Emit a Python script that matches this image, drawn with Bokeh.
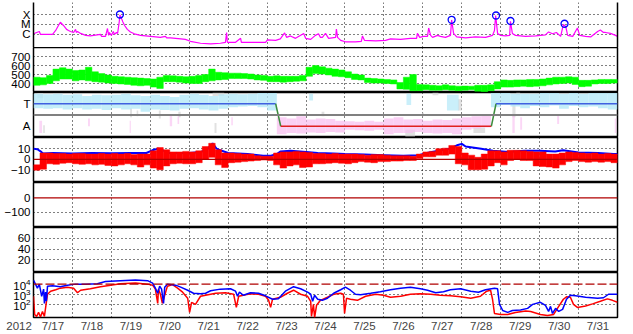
import numpy as np
from bokeh.plotting import figure
from bokeh.layouts import column
from bokeh.models import Range1d, FixedTicker, Span, Label, LogAxis
from bokeh.embed import file_html
from bokeh.resources import INLINE

# ---------------- data ----------------
year_text = "2012"
day_grid = list(range(18, 32))                       # midnights (day of July)
day_label_pos = [d + 0.5 for d in range(17, 32)]
day_labels = ["7/%d" % d for d in range(17, 32)]

# X-ray flux (day of July, W/m2)
xray = [(17.00,1.1e-6),(17.15,1.9e-6),(17.18,9.5e-7),(17.31,9.5e-7),(17.49,9.5e-7),(17.57,2.4e-6),
        (17.64,7.7e-6),(17.69,1.65e-5),(17.77,7.7e-6),(17.85,3.1e-6),(17.90,2.4e-6),(17.95,1.9e-6),
        (18.03,1.5e-6),(18.08,3.1e-6),(18.10,1.5e-6),(18.13,1.9e-6),(18.21,1.2e-6),(18.34,7.6e-7),
        (18.46,6.7e-7),(18.72,9.5e-7),(18.75,6.0e-7),(18.85,6.0e-7),(18.90,3.8e-6),(18.93,7.6e-7),
        (18.95,1.5e-6),(19.00,7.6e-7),(19.05,1.9e-6),(19.08,9.5e-7),(19.13,1.5e-6),(19.16,1.2e-6),
        (19.20,1.55e-5),(19.22,9.0e-5),(19.25,5.0e-5),(19.29,2.0e-5),(19.34,7.7e-6),(19.41,3.1e-6),
        (19.49,1.7e-6),(19.59,1.1e-6),(19.75,7.6e-7),(20.01,6.0e-7),(20.26,4.8e-7),(20.39,6.0e-7),
        (20.42,4.3e-7),(20.52,4.3e-7),(20.78,3.4e-7),(20.90,3.0e-7),(21.03,1.9e-7),(21.29,1.2e-7),
        (21.55,1.05e-7),(21.80,1.2e-7),(21.93,1.5e-7),(21.96,1.5e-6),(21.98,1.5e-7),(22.19,1.5e-7),
        (22.32,3.8e-7),(22.34,1.5e-7),(22.57,1.5e-7),(22.96,1.5e-7),(23.01,2.7e-7),(23.22,2.4e-7),
        (23.34,3.4e-7),(23.45,1.35e-6),(23.50,4.8e-7),(23.60,6.7e-7),(23.73,3.8e-7),(23.94,1.2e-6),
        (23.99,3.8e-7),(24.12,3.0e-7),(24.24,7.6e-7),(24.32,1.1e-6),(24.37,4.8e-7),(24.42,4.8e-7),
        (24.50,1.2e-6),(24.58,3.8e-7),(24.76,4.8e-7),(24.78,3.4e-6),(24.81,4.8e-7),(24.89,2.4e-7),
        (25.01,1.7e-7),(25.27,1.7e-7),(25.42,1.9e-7),(25.45,6.7e-7),(25.50,2.4e-7),(25.79,2.1e-7),
        (26.04,2.4e-7),(26.17,3.4e-7),(26.43,3.0e-7),(26.68,3.8e-7),(26.84,3.8e-7),(26.86,1.2e-6),
        (26.92,4.8e-7),(27.02,6.0e-7),(27.12,6.0e-7),(27.15,4.3e-6),(27.20,7.6e-7),(27.25,4.8e-7),
        (27.38,7.6e-7),(27.45,6.0e-7),(27.58,4.8e-7),(27.71,7.6e-7),(27.74,2.8e-5),(27.79,1.2e-6),
        (27.87,5.3e-7),(28.10,4.3e-7),(28.35,5.3e-7),(28.61,4.8e-7),(28.79,7.6e-7),(28.84,2.4e-6),
        (28.87,7.9e-5),(28.92,1.2e-6),(29.00,7.6e-7),(29.12,6.7e-7),(29.23,7.6e-7),(29.25,2.0e-5),
        (29.30,1.2e-6),(29.38,7.6e-7),(29.64,6.0e-7),(29.90,6.7e-7),(30.15,8.5e-7),(30.23,1.7e-6),
        (30.33,1.1e-6),(30.43,1.5e-6),(30.54,6.0e-7),(30.61,9.8e-6),(30.67,6.1e-6),(30.72,7.6e-7),
        (30.85,6.0e-7),(30.97,4.3e-6),(31.03,7.6e-7),(31.18,6.0e-7),(31.31,5.3e-7),(31.49,1.9e-6),
        (31.56,2.7e-6),(31.64,1.5e-6),(31.69,1.5e-6),(31.82,1.2e-6),(31.95,7.6e-7),(32.00,6.0e-7)]
flare_t = [19.22, 27.74, 28.88, 29.25, 30.64]
flare_f = [1.0e-4, 2.9e-5, 7.9e-5, 2.2e-5, 1.15e-5]

# solar wind speed, 4-hour bins from 7/17 00:00 (km/s)
speed_lo = [380,385,400,430,450,450, 430,440,430,420,415,405, 400,395,390,380,375,380,
            360,345,420,420,415,405, 400,400,420,430,440,445, 455,455,455,450,440,435,
            420,420,415,420,425,430, 480,510,505,495,480,475, 465,445,440,410,405,405,
            400,395,340,335,320,320, 330,325,325,330,325,320, 325,330,315,308,320,340,
            360,360,365,370,365,370, 375,385,395,400,405,390, 365,370,395,400,400,405]
speed_hi = [470,465,490,560,575,560, 545,550,580,530,510,495, 480,475,470,465,460,455,
            450,470,490,485,480,475, 480,490,500,560,525,520, 515,515,510,505,495,490,
            480,485,480,480,480,490, 580,600,585,570,560,550, 530,505,495,460,455,450,
            445,440,410,470,500,390, 385,380,375,385,375,370, 372,370,380,380,385,420,
            440,435,440,440,445,445, 450,460,470,470,475,470, 435,435,440,445,445,445]

# sector (T = +1, A = -1)
sector_t = [17.0, 23.22, 23.35, 28.76, 28.88, 32.0]
sector_v = [1, 1, -1, -1, 1, 1]
cyan_t = [17.0,17.25,17.5,17.75,18.0,18.25,18.5,18.75,19.0,19.25,19.5,19.75,20.0,20.25,20.5,
          20.75,21.0,21.25,21.5,21.75,22.0,22.25,22.5,22.75,23.0,
          28.75,29.0,29.25,29.5,29.75,30.0,30.25,30.5,30.75,31.0,31.25,31.5,31.75]
cyan_lo = [0.6,0.55,0.6,0.5,0.6,0.5,0.55,0.45,0.6,0.5,0.55,0.3,0.5,0.45,0.4,0.55,0.6,0.5,0.4,
           0.55,0.7,0.75,0.8,0.7,0.4, 0.7,0.9,0.75,0.6,0.8,0.7,0.85,0.55,0.8,0.7,0.75,0.6,0.5]
cyan_hi = [1.9,1.85,1.9,1.8,1.85,1.7,1.8,1.75,1.8,1.9,1.75,1.7,1.8,1.7,1.6,1.8,1.9,1.8,1.7,
           1.85,1.9,1.85,1.9,1.95,1.95, 1.95,1.95,1.9,1.9,1.9,1.95,1.95,1.9,1.95,1.9,1.95,1.95,1.95]
pink_t = [23.25,23.5,23.75,24.0,24.25,24.5,24.75,25.0,25.25,25.5,25.75,26.0,26.25,26.5,26.75,
          27.0,27.25,27.5,27.75,28.0,28.25,28.5]
pink_hi = [-0.2,-0.3,-0.1,-0.4,-0.3,-0.35,-0.5,-0.55,-0.6,-0.5,-0.6,-0.3,-0.2,-0.4,-0.35,
           -0.5,-0.4,-0.45,-0.3,-0.2,-0.1,-0.05]
pink_lo = [-1.7,-1.6,-1.65,-1.55,-1.6,-1.5,-1.55,-1.3,-1.35,-1.4,-1.3,-1.7,-1.6,-1.6,-1.5,
           -1.6,-1.65,-1.6,-1.7,-1.3,-1.2,-1.1]
gray_bits = [(17.10,17.25,1.5,1.95),(17.25,17.29,-1.6,-0.9),(19.48,19.53,-0.2,0.6),
             (19.65,19.69,-0.1,0.4),(20.22,20.27,-0.3,0.4),(20.72,20.78,-0.2,0.3),
             (21.60,21.90,1.7,2.0),(21.65,21.70,-1.6,-0.7),(24.40,24.47,-0.1,0.3),
             (26.55,26.80,-1.9,-1.3),(26.98,27.03,-0.1,0.2),(27.25,27.40,1.75,2.0),
             (27.90,28.00,0.4,1.4),(28.30,28.60,-1.6,-1.1),(29.30,29.38,-0.2,0.9),
             (29.40,29.50,1.75,2.0)]
pink_bits = [(17.15,17.22,-1.6,-0.5),(18.40,18.45,-1.0,-0.3),(19.47,19.50,-1.6,-0.5),
             (20.50,20.56,-1.0,0.0),(20.70,20.74,-0.8,-0.1),(22.08,22.12,-0.9,-0.2),
             (29.30,29.36,-1.6,0.0),(29.50,29.55,-1.3,-0.2),(30.45,30.50,-0.8,0.0),
             (31.93,31.97,-1.6,-0.3)]
cyan_bits = [(24.08,24.18,1.3,1.9),(26.58,26.70,0.9,1.9),(27.62,27.92,0.4,1.8)]

# IMF Bt (nT)
bt_t = [17.0,17.1,17.2,17.25,17.5,18.0,18.5,19.0,19.5,19.9,20.05,20.2,20.35,20.5,21.0,21.3,
        21.45,21.6,21.7,21.8,22.0,22.5,22.9,23.1,23.25,23.35,23.6,24.0,24.3,24.7,25.0,25.5,
        26.0,26.5,26.9,27.1,27.4,27.7,27.9,28.0,28.1,28.5,28.8,29.2,29.6,30.0,30.4,30.6,
        31.0,31.5,31.9,32.0]
bt_v = [10,9.5,7,5.5,6,5.5,6,5.8,6,6,8.5,10,8,6,6,7,9,15,10,8.5,6,5,3.5,3.5,5,7.5,8,7,6,5.5,
        5,4.5,4,3.5,4,6,8,10,13.5,14.5,12,10,8,7,8,8,7.5,8.5,6.5,6,5,5]
# IMF Bz range, 4-hour bins (nT)
bz_lo = [-10,-9,-4,-4.5,-3.5,-3, -4,-4.5,-4,-5,-4.5,-5.5, -6,-5,-4,-5,-7,-5,
         -8,-9.5,-6,-4,-3.5,-4, -4,-3,0,2,-5,-7.5, -3,-2.5,-2,-1.5,-1,-0.5,
         -1,-5,-8,-6,-5,-7.5, -7,-4,-4,-3.5,-3,-3.5, -4,-3,-2,-2.5,-3,-2,
         -2,-1.5,-1.5,-1,-1,1, 2.5,2.5,4,4,5,-4, -5,-9.5,-9.5,-9,-6,-3,
         -5,-1,0,-1,-1,-6, -6.5,-7,-8,-5,-2,-1, -2,-2.5,-2,-2.5,-2,-3]
bz_hi = [-5,6,6,5.5,5.5,5, 5.5,5.5,5,5,5.5,5, 5.5,5,5.5,4.5,5,5,
         8,11,9,7,7,7.5, 7,8,12,15,9,6, 6,5.5,5,5,3.5,3,
         3,6,7,7,7.5,7, 6.5,5.5,5.5,5,5.5,5, 5,5,4.5,4,4.5,4.5,
         4,3.5,3.5,3.5,3,5, 7,7.5,10,10.5,13,12, 6,4,2,5,8,8,
         7,8.5,8.5,8,7.5,7, 7,5,5,6,7,6.5, 6,5.5,6,5,5.5,5]

# electron flux
e_blue = [(17.00,2.5e4),(17.05,1.0e4),(17.10,4.0e3),(17.15,1.0e4),(17.21,6.3e2),(17.26,3.2e3),
          (17.28,1.26e2),(17.31,1.6e3),(17.33,2.0e2),(17.36,6.3e3),(17.49,7.1e3),(17.69,5.6e3),
          (17.87,7.9e3),(18.08,1.0e4),(18.34,1.0e4),(18.64,1.1e4),(18.85,1.8e4),(19.23,2.2e4),
          (19.62,2.5e4),(19.93,2.2e4),(20.06,1.26e4),(20.13,4.0e3),(20.19,1.26e3),(20.24,6.3e3),
          (20.29,3.2e3),(20.34,1.26e2),(20.37,5.0e3),(20.44,1.0e4),(20.65,7.9e3),(20.78,5.0e3),
          (20.96,2.5e3),(21.11,1.26e3),(21.29,1.1e3),(21.42,1.26e3),(21.55,2.2e3),(21.80,3.2e3),
          (22.06,3.5e3),(22.19,2.0e3),(22.24,6.3e2),(22.29,1.6e3),(22.39,8.0e2),(22.57,1.4e3),
          (22.78,1.26e3),(22.96,7.0e2),(23.14,3.2e2),(23.29,3.5e2),(23.47,2.0e3),(23.68,5.6e3),
          (23.86,3.5e3),(24.04,1.6e3),(24.12,1.0e3),(24.17,2.0e2),(24.22,8.0e2),(24.30,3.2e2),
          (24.42,2.5e2),(24.55,4.0e2),(24.71,1.26e3),(24.89,2.8e3),(25.01,5.0e3),(25.14,2.5e3),
          (25.27,1.0e3),(25.40,9.0e2),(25.66,1.26e3),(25.91,1.8e3),(26.17,2.8e3),(26.43,4.0e3),
          (26.68,5.0e3),(26.94,3.5e3),(27.12,2.5e3),(27.33,1.4e3),(27.53,1.8e3),(27.71,2.8e3),
          (27.97,3.5e3),(28.23,2.0e3),(28.43,1.6e3),(28.61,2.8e3),(28.84,4.0e3),(28.92,3.5e3),
          (28.97,1.0e2),(29.05,2.5e1),(29.18,1.6e1),(29.30,2.5e1),(29.51,2.8e1),(29.69,4.0e1),
          (29.82,1.0e2),(30.02,1.6e2),(30.15,8.0e1),(30.23,2.0e1),(30.28,6.3e1),(30.33,1.26e1),
          (30.41,4.0e1),(30.49,2.0e1),(30.59,3.2e1),(30.69,3.2e2),(30.79,8.0e2),(30.92,7.0e2),
          (31.18,5.0e2),(31.49,4.0e2),(31.64,4.5e2),(31.77,1.0e3),(32.00,1.0e3)]
e_red = [(17.00,6.3e2),(17.03,1.0e1),(17.08,6.3),(17.13,1.6e1),(17.18,5.6),(17.23,2.0e1),
         (17.28,6.3),(17.33,1.6e2),(17.36,1.0e3),(17.44,2.0e3),(17.57,2.8e3),(17.69,4.0e3),
         (17.87,5.0e3),(18.03,4.0e3),(18.13,1.4e3),(18.21,2.5e3),(18.46,3.5e3),(18.72,5.6e3),
         (18.98,7.9e3),(19.23,1.1e4),(19.62,1.26e4),(19.93,1.0e4),(20.06,7.9e3),(20.13,3.2e3),
         (20.19,1.26e2),(20.21,3.2e3),(20.26,1.0e3),(20.31,1.26e2),(20.37,8.0e2),(20.44,6.3e3),
         (20.57,8.9e3),(20.70,4.0e3),(20.83,1.6e3),(20.96,4.0e2),(21.01,1.6e1),(21.06,1.6e2),
         (21.16,1.0e2),(21.29,6.3e2),(21.42,8.0e2),(21.68,1.26e3),(21.93,1.4e3),(22.14,1.0e3),
         (22.21,5.0e1),(22.27,6.3e2),(22.39,8.0e2),(22.57,1.1e3),(22.78,1.0e3),(22.96,6.3e2),
         (23.04,2.5e2),(23.09,5.0e1),(23.14,3.2e2),(23.34,5.0e2),(23.52,1.26e3),(23.68,2.5e3),
         (23.86,1.0e3),(24.04,6.3e2),(24.12,2.0e2),(24.14,6.3),(24.19,1.0e2),(24.22,5.0),
         (24.27,8.0e1),(24.37,2.5e2),(24.55,5.0e2),(24.71,1.0e3),(24.89,1.26e3),(24.96,1.0e3),
         (24.99,1.26e1),(25.04,4.0e2),(25.14,3.2e2),(25.32,2.5e2),(25.53,6.3e2),(25.79,1.0e3),
         (25.99,8.0e2),(26.17,5.0e2),(26.43,6.3e2),(26.68,1.0e3),(26.94,1.1e3),(27.20,1.0e3),
         (27.45,8.0e2),(27.71,7.0e2),(27.97,5.6e2),(28.23,4.0e2),(28.48,6.3e2),(28.64,2.0e3),
         (28.74,2.5e3),(28.79,3.2e2),(28.84,1.26e1),(29.00,1.0e1),(29.18,1.0e1),(29.38,1.6e1),
         (29.64,2.2e1),(29.77,2.0e1),(30.02,1.0e1),(30.20,8.0),(30.36,1.0e1),(30.49,6.3e1),
         (30.61,3.2e2),(30.69,5.6e2),(30.79,5.0e2),(30.87,1.0e2),(30.97,5.0e1),(31.18,7.0e1),
         (31.36,1.12e2),(31.56,2.0e2),(31.74,3.5e2),(31.87,2.5e2),(32.00,1.6e2)]
e_threshold = 1.0e4

# ---------------- figure ----------------
FONT = "Liberation Sans"
X0, X1 = 17.0, 32.0
xr = Range1d(X0, X1)
BIN4H = 1.0 / 6.0


def panel(yr, ticks, grid, ytype="linear", top=0, bottom=0, xaxis=False, overrides=None,
          outline=True):
    p = figure(frame_width=584, frame_height=45, x_range=xr, y_range=yr, y_axis_type=ytype,
               x_axis_location=("below" if xaxis else None),
               min_border_left=33, min_border_right=16, min_border_top=top,
               min_border_bottom=bottom, output_backend="svg", toolbar_location=None,
               background_fill_color="white", border_fill_color="white")
    p.outline_line_color = "black" if outline else None
    p.outline_line_width = 1.5
    ax = p.yaxis[0]
    ax.ticker = FixedTicker(ticks=ticks)
    ax.axis_line_color = "black" if not outline else None
    ax.axis_line_width = 1.5
    ax.major_tick_line_color = None
    ax.minor_tick_line_color = None
    ax.major_tick_out = 0
    ax.major_tick_in = 0
    ax.minor_tick_out = 0
    ax.major_label_text_font = FONT
    ax.major_label_text_font_size = "11.5px"
    ax.major_label_text_color = "black"
    ax.major_label_standoff = 3
    if overrides:
        ax.major_label_overrides = overrides
    p.ygrid[0].ticker = FixedTicker(ticks=grid)
    p.xgrid[0].ticker = FixedTicker(ticks=day_grid)
    for g in (p.xgrid[0], p.ygrid[0]):
        g.grid_line_color = "black"
        g.grid_line_dash = "1 3"
        g.grid_line_width = 1
        g.grid_line_alpha = 1.0
    return p


def rt(p):
    p.add_layout(Label(x=X1, y=p.y_range.end, x_offset=3, y_offset=-9, text="rt",
                       text_font=FONT, text_font_size="10px", text_baseline="middle",
                       text_align="left", text_color="black"))


# 1: X-ray (no top border line)
p1 = panel(Range1d(10 ** -7.35, 10 ** -2.78), [1e-6, 1e-5, 1e-4], [1e-6, 1e-5, 1e-4],
           ytype="log", top=2, overrides={1e-6: "C", 1e-5: "M", 1e-4: "X"}, outline=False)
right_ax = LogAxis(ticker=FixedTicker(ticks=[]), axis_line_color="black", axis_line_width=1.5,
                   major_tick_line_color=None, minor_tick_line_color=None,
                   major_tick_out=0, minor_tick_out=0, major_label_text_color=None)
p1.add_layout(right_ax, "right")
xt, xf = zip(*xray)
p1.line(list(xt), list(xf), line_color="#ff00ff", line_width=1.2)
p1.scatter(flare_t, flare_f, marker="circle", size=7, fill_color=None,
           line_color="#0000ff", line_width=1.3)
rt(p1)

# 2: speed
p2 = panel(Range1d(300, 800), [400, 500, 600, 700], [400, 500, 600, 700])
sp_x = [X0 + (i + 0.5) * BIN4H for i in range(len(speed_lo))]
p2.vbar(x=sp_x, width=BIN4H, bottom=speed_lo, top=speed_hi,
        fill_color="#00ff00", line_color="#00ff00", line_width=0.5)
rt(p2)

# 3: sector
p3 = panel(Range1d(-2, 2), [1, -1], [], overrides={1: "T", -1: "A"})
gl, gr, gb, gt = zip(*gray_bits)
p3.quad(left=list(gl), right=list(gr), bottom=list(gb), top=list(gt),
        fill_color="#d4d4d4", line_color=None, fill_alpha=0.7)
pl, pr, pb, pt = zip(*pink_bits)
p3.quad(left=list(pl), right=list(pr), bottom=list(pb), top=list(pt),
        fill_color="#f8bcf0", line_color=None, fill_alpha=0.6)
p3.quad(left=pink_t, right=[t + 0.25 for t in pink_t], bottom=pink_lo, top=pink_hi,
        fill_color="#f8bcf0", line_color=None, fill_alpha=0.7)
cl, cr, cb, ct = zip(*cyan_bits)
p3.quad(left=list(cl), right=list(cr), bottom=list(cb), top=list(ct),
        fill_color="#b4e8f8", line_color=None, fill_alpha=0.7)
p3.quad(left=cyan_t, right=[t + 0.25 for t in cyan_t], bottom=cyan_lo, top=cyan_hi,
        fill_color="#b4e8f8", line_color=None, fill_alpha=0.8)
p3.add_layout(Span(location=0, dimension="width", line_color="#808080", line_width=2))
seg_col = []
for i in range(len(sector_t) - 1):
    a, b = sector_v[i], sector_v[i + 1]
    seg_col.append("#4060e0" if (a == b and a > 0) else ("#e02020" if a == b else "#3c8c3c"))
p3.segment(x0=sector_t[:-1], y0=sector_v[:-1], x1=sector_t[1:], y1=sector_v[1:],
           line_color=seg_col, line_width=1.5)
rt(p3)

# 4: IMF
p4 = panel(Range1d(-21.4, 20.4), [10, 0, -10], [10, -10])
p4.add_layout(Span(location=0, dimension="width", line_color="#b00000", line_width=1.2))
bz_x = [X0 + (i + 0.5) * BIN4H for i in range(len(bz_lo))]
p4.line(bt_t, bt_v, line_color="#0000ff", line_width=2)
p4.vbar(x=bz_x, width=BIN4H, bottom=bz_lo, top=bz_hi,
        fill_color="#ff0000", line_color="#ff0000", line_width=0.5)
rt(p4)

# 5: Dst
p5 = panel(Range1d(-206, 106), [0, -100], [-100])
p5.add_layout(Span(location=0, dimension="width", line_color="#b00000", line_width=1.2))

# 6
p6 = panel(Range1d(-3.3, 80.2), [20, 40, 60], [20, 40, 60])

# 7: electrons
p7 = panel(Range1d(10 ** 0.7, 10 ** 5.15), [1e2, 1e3, 1e4], [1e2, 1e3], ytype="log",
           bottom=17, xaxis=True)
p7.add_layout(Span(location=e_threshold, dimension="width", line_color="#b00000",
                   line_width=1.2, line_dash="9 3"))
bt_, bf_ = zip(*e_blue)
rt_, rf_ = zip(*e_red)
p7.line(list(rt_), list(rf_), line_color="#ff0000", line_width=1.5)
p7.line(list(bt_), list(bf_), line_color="#0000ff", line_width=1.5)
xa = p7.xaxis[0]
# the year sits as a label on the range start, padded so it ends left of the frame
year_lab = year_text + "\u00a0" * 9
xa.ticker = FixedTicker(ticks=[X0] + day_label_pos)
ov = {X0: year_lab}
ov.update({pos: lab for pos, lab in zip(day_label_pos, day_labels)})
xa.major_label_overrides = ov
xa.axis_line_color = None
xa.major_tick_line_color = None
xa.minor_tick_line_color = None
xa.major_tick_out = 0
xa.major_tick_in = 0
xa.minor_tick_out = 0
xa.major_label_text_font = FONT
xa.major_label_text_font_size = "11.5px"
xa.major_label_standoff = 2
rt(p7)

layout = column(p1, p2, p3, p4, p5, p6, p7, spacing=0)
open("out.html", "w").write(file_html(layout, INLINE))
